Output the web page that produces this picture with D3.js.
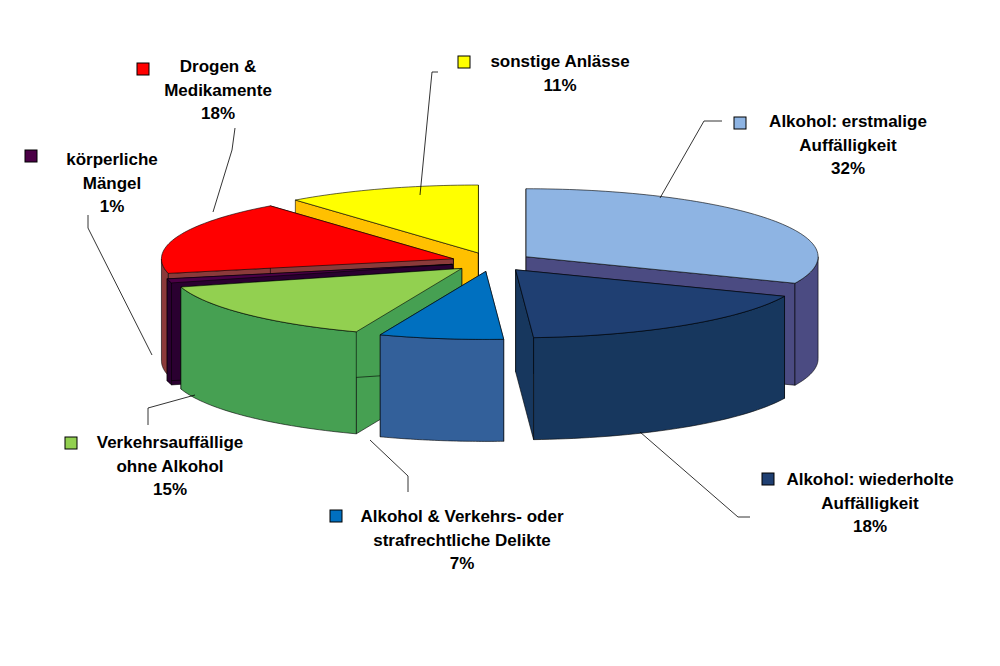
<!DOCTYPE html>
<html><head><meta charset="utf-8">
<script src="https://cdn.jsdelivr.net/npm/d3@7"></script>
<style>body{margin:0;background:#fff}svg{display:block}</style>
</head><body>
<script>
// data, clockwise from 12 o'clock
const labels = [
  ["Alkohol: erstmalige", "Auffälligkeit", "32%"],
  ["Alkohol: wiederholte", "Auffälligkeit", "18%"],
  ["Alkohol & Verkehrs- oder", "strafrechtliche Delikte", "7%"],
  ["Verkehrsauffällige", "ohne Alkohol", "15%"],
  ["körperliche", "Mängel", "1%"],
  ["Drogen &", "Medikamente", "18%"],
  ["sonstige Anlässe", "11%"]
];
const values = [32, 18, 7, 15, 1, 18, 11];
const topColors = ["#8EB4E3", "#1F3F72", "#0070C0", "#92D050", "#4B0046", "#FF0000", "#FFFF00"];
const sideColors = ["#4B4B82", "#17375E", "#33609A", "#46A052", "#2A0030", "#8B3A3A", "#FFC000"];

// label layout: legend box, text centre, leader polyline
const labelLayout = [
  {box: [734, 117], cx: 848, y: 127, lead: [[722, 121], [704, 121], [660, 198]]},
  {box: [762, 473], cx: 870, y: 485, lead: [[750, 517], [738, 517], [640, 432]]},
  {box: [330, 510], cx: 462, y: 522, lead: [[408, 492], [408, 476], [370, 440]]},
  {box: [65, 437], cx: 170, y: 448, lead: [[148, 425], [148, 408], [195, 395]]},
  {box: [25, 150], cx: 112, y: 165, lead: [[88, 215], [88, 228], [152, 355]]},
  {box: [137, 63], cx: 218, y: 72, lead: [[235, 128], [232, 150], [213, 212]]},
  {box: [458, 56], cx: 560, y: 67, lead: [[438, 72], [432, 72], [420, 195]]}
];

const W = 1000, H = 666;
const cx = 492, cy = 262, rx = 292, ry = 68, depth = 102, explode = 0.14;

const svg = d3.select("body").append("svg").attr("width", W).attr("height", H);

const arcs = d3.pie().sort(null).value(d => d)(values);

function pt(a, r, ox, oy, down) {
  return [ox + r * rx * Math.sin(a), oy - r * ry * Math.cos(a) + (down ? depth : 0)];
}

const slices = arcs.map((a, i) => {
  const mid = (a.startAngle + a.endAngle) / 2;
  const ox = cx + explode * rx * Math.sin(mid);
  const oy = cy - explode * ry * Math.cos(mid);
  return {a, i, mid, ox, oy};
});

// back to front
slices.sort((p, q) => (-Math.cos(p.mid)) - (-Math.cos(q.mid)));

const line = d3.line();
slices.forEach(s => {
  const {a, i, ox, oy} = s;
  const g = svg.append("g").attr("stroke", "#000").attr("stroke-width", 0.6).attr("stroke-linejoin", "round");
  const side = sideColors[i];
  // radial faces
  [a.startAngle, a.endAngle].forEach(ang => {
    const c0 = [ox, oy], c1 = [ox, oy + depth];
    const e0 = pt(ang, 1, ox, oy, false), e1 = pt(ang, 1, ox, oy, true);
    g.append("path").attr("d", line([c0, e0, e1, c1]) + "Z").attr("fill", side);
  });
  // outer wall (front half only)
  const s0 = Math.max(a.startAngle, Math.PI / 2), s1 = Math.min(a.endAngle, 3 * Math.PI / 2);
  if (s1 > s0) {
    const steps = d3.range(0, 41).map(k => s0 + (s1 - s0) * k / 40);
    const topPts = steps.map(t => pt(t, 1, ox, oy, false));
    const botPts = steps.slice().reverse().map(t => pt(t, 1, ox, oy, true));
    g.append("path").attr("d", line(topPts.concat(botPts)) + "Z").attr("fill", side);
  }
  // top
  const n = Math.max(4, Math.ceil((a.endAngle - a.startAngle) * 40));
  const tp = [[ox, oy]].concat(d3.range(0, n + 1).map(k => pt(a.startAngle + (a.endAngle - a.startAngle) * k / n, 1, ox, oy, false)));
  g.append("path").attr("d", line(tp) + "Z").attr("fill", topColors[i]);
});

// labels
labelLayout.forEach((L, i) => {
  svg.append("path").attr("d", line(L.lead)).attr("fill", "none").attr("stroke", "#000").attr("stroke-width", 0.8);
  svg.append("rect").attr("x", L.box[0]).attr("y", L.box[1]).attr("width", 12).attr("height", 12)
    .attr("fill", topColors[i]).attr("stroke", "#000").attr("stroke-width", 1);
  const t = svg.append("text").attr("text-anchor", "middle")
    .attr("font-family", "Liberation Sans, Arial, sans-serif").attr("font-weight", "bold").attr("font-size", 17);
  labels[i].forEach((s, k) => {
    t.append("tspan").attr("x", L.cx).attr("y", L.y + k * 23.5).text(s);
  });
});
</script>
</body></html>
